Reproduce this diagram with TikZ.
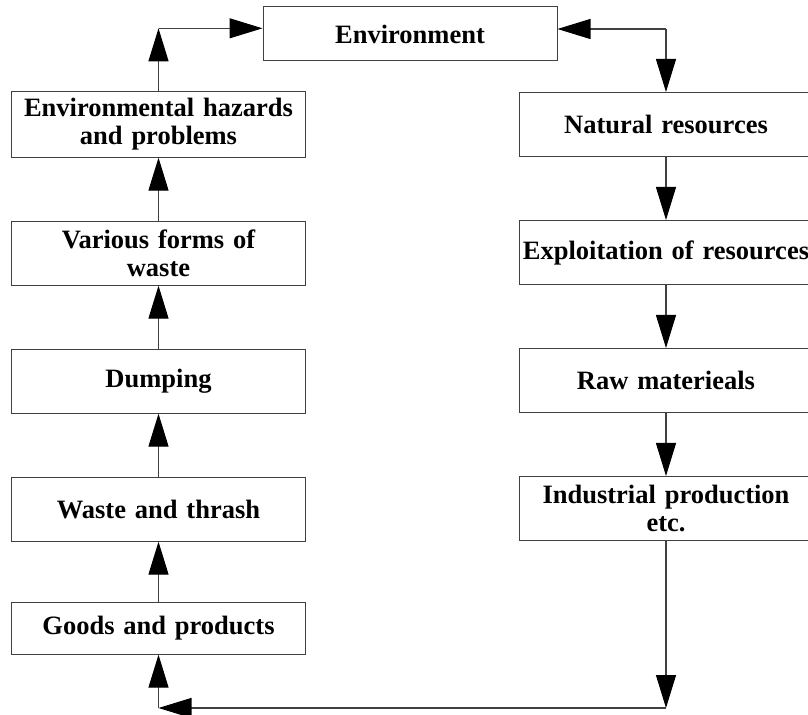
\documentclass[tikz,border=0pt]{standalone}
\usepackage{fontspec}
\setmainfont{Liberation Serif}
\usetikzlibrary{positioning,arrows.meta}
\tikzset{
  box/.style={draw=black!75, line width=0.5pt, text width=145pt, inner xsep=1pt,
    align=center, minimum height=32pt,
    font=\bfseries\fontsize{13.25pt}{14pt}\selectfont},
  arr/.style={draw=black!75, line width=0.6pt,
    -{Triangle[length=16.5pt,width=10pt,color=black]}},
}
\begin{document}
\begin{tikzpicture}[x=0.5pt, y=-0.5pt, node distance=31.5pt]
  \useasboundingbox (0,0) rectangle (808,715);

  \node [box, minimum height=27pt] (env) at (410,34) {Environment};

  \node [box] (haz) at (158.5,124.5) {Environmental hazards\\and problems};
  \node [box, below=of haz] (var) {Various forms of\\waste};
  \node [box, below=of var] (dump) {Dumping};
  \node [box, below=of dump] (waste) {Waste and thrash};
  \node [box, below=30pt of waste, minimum height=26pt] (goods) {Goods and products};

  \node [box] (nat) at (666,124.5) {Natural resources};
  \node [box, below=of nat] (expl) {Exploitation of resources};
  \node [box, below=of expl] (raw) {Raw materieals};
  \node [box, below=of raw] (ind) {Industrial production\\etc.};

  \coordinate [above=of haz] (tl);
  \coordinate [above=of nat] (tr);
  \coordinate [below=83.5pt of ind] (br);
  \coordinate (bl) at (br -| goods);

  \draw [arr] (haz) -- (tl);
  \draw [arr] (tl) -- (tl -| env.west);
  \draw [arr] (tr) -- (tr -| env.east);
  \draw [arr] (tr) -- (nat);
  \draw [arr] (nat) -- (expl);
  \draw [arr] (expl) -- (raw);
  \draw [arr] (raw) -- (ind);
  \draw [arr] (ind) -- (br);
  \draw [arr] (br) -- (bl);
  \draw [arr] (bl) -- (goods);
  \draw [arr] (goods) -- (waste);
  \draw [arr] (waste) -- (dump);
  \draw [arr] (dump) -- (var);
  \draw [arr] (var) -- (haz);
\end{tikzpicture}
\end{document}
